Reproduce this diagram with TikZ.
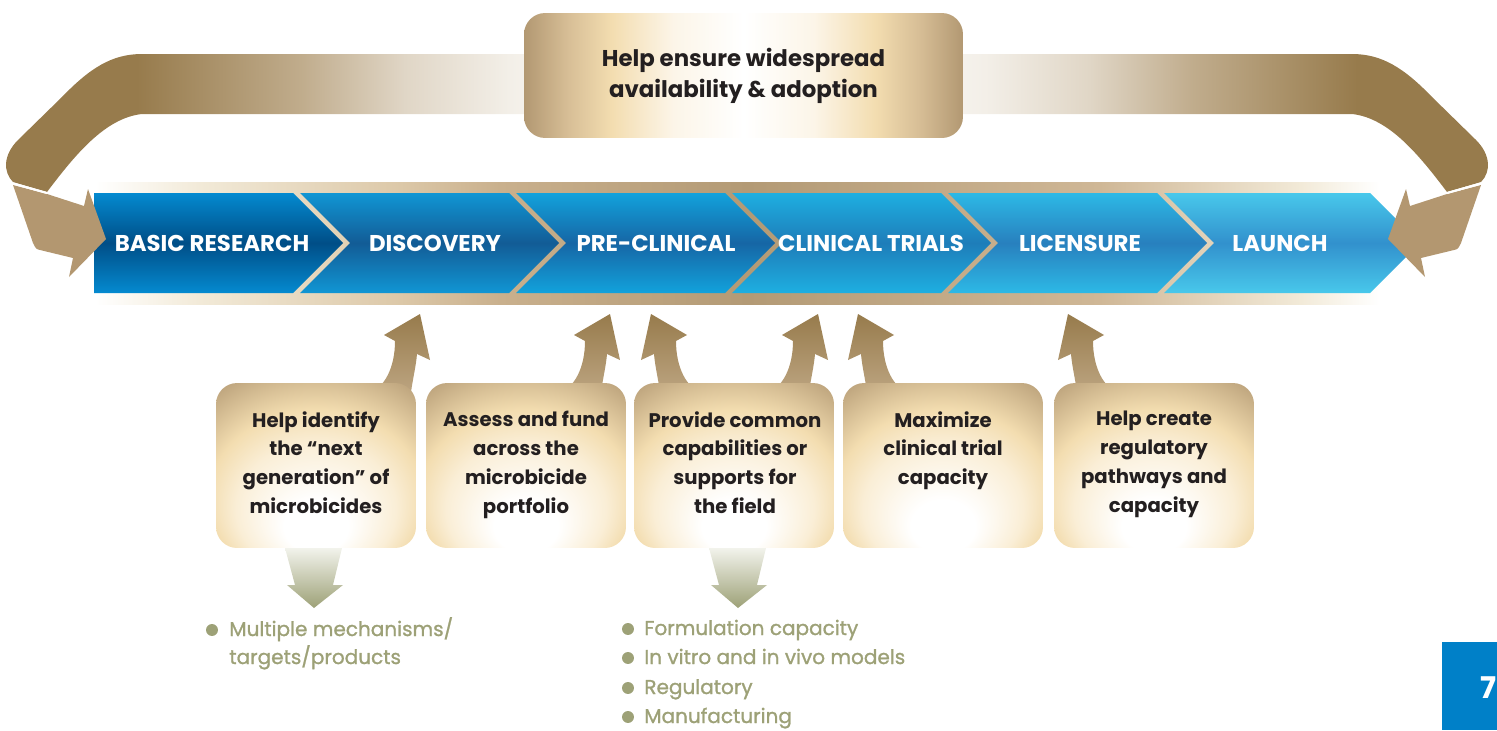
\documentclass[tikz,border=0pt]{standalone}
\usepackage{fontspec}
\setmainfont{Poppins}
\newfontfamily\pointfont{Poppins}[FakeBold=1.2]
\usetikzlibrary{calc}
\definecolor{gold}{RGB}{151,123,76}
\definecolor{goldmid}{RGB}{192,172,140}
\definecolor{goldlight}{RGB}{224,214,198}
\definecolor{goldpale}{RGB}{243,239,232}
\definecolor{twist}{RGB}{179,151,112}
\definecolor{sand}{RGB}{243,221,176}
\definecolor{cream}{RGB}{250,238,214}
\definecolor{ivory}{RGB}{252,245,232}
\definecolor{tanlight}{RGB}{215,190,150}
\definecolor{boxtan}{RGB}{178,152,114}
\definecolor{arrowfoot}{RGB}{188,164,128}
\definecolor{stripA}{RGB}{242,234,216}
\definecolor{stripB}{RGB}{220,200,168}
\definecolor{stripC}{RGB}{201,176,141}
\definecolor{stripD}{RGB}{179,154,117}
\definecolor{stripE}{RGB}{207,183,150}
\definecolor{olive}{RGB}{157,161,119}
\definecolor{olivepale}{RGB}{242,243,236}
\definecolor{ink}{RGB}{35,31,32}
\definecolor{pageblue}{RGB}{0,128,200}
\definecolor{segAe}{RGB}{4,138,208}   \definecolor{segAm}{RGB}{0,78,135}
\definecolor{segBe}{RGB}{17,150,212}  \definecolor{segBm}{RGB}{18,92,150}
\definecolor{segCe}{RGB}{18,162,220}  \definecolor{segCm}{RGB}{22,102,165}
\definecolor{segDe}{RGB}{30,175,225}  \definecolor{segDm}{RGB}{30,125,185}
\definecolor{segEe}{RGB}{45,185,230}  \definecolor{segEm}{RGB}{40,128,190}
\definecolor{segFe}{RGB}{72,200,235}  \definecolor{segFm}{RGB}{50,145,205}
\pgfdeclarehorizontalshading{loopband}{100bp}{color(0bp)=(gold); color(29.5bp)=(gold);
  color(35bp)=(goldmid); color(38.5bp)=(goldlight); color(42bp)=(goldpale); color(47bp)=(white);
  color(53bp)=(white); color(58bp)=(goldpale); color(61.5bp)=(goldlight); color(65bp)=(goldmid);
  color(70.5bp)=(gold); color(100bp)=(gold)}
\pgfdeclarehorizontalshading{stripband}{100bp}{color(0bp)=(white); color(25bp)=(white);
  color(29bp)=(stripA); color(36.7bp)=(stripB); color(40.5bp)=(stripC);
  color(50bp)=(stripD); color(63.5bp)=(stripE); color(71.2bp)=(stripA);
  color(74.2bp)=(white); color(100bp)=(white)}
\pgfdeclarehorizontalshading{goalglow}{100bp}{color(0bp)=(boxtan); color(25bp)=(boxtan);
  color(30bp)=(tanlight); color(35bp)=(sand); color(42bp)=(ivory); color(50bp)=(white);
  color(58bp)=(ivory); color(65bp)=(sand); color(70bp)=(tanlight);
  color(75bp)=(boxtan); color(100bp)=(boxtan)}
\pgfdeclareradialshading{boxglow}{\pgfpoint{0bp}{-22bp}}{color(0bp)=(white); color(8bp)=(white);
  color(20bp)=(cream); color(27bp)=(sand); color(40bp)=(boxtan); color(50bp)=(boxtan)}

\begin{document}
\begin{tikzpicture}[x=0.02cm, y=-0.02cm,
  stage/.style={font=\bfseries\fontsize{13}{15}\selectfont, text=white, inner sep=0pt},
  actbox/.style={rounded corners=12pt, minimum width=4cm, minimum height=3.3cm,
    shade, shading=boxglow, inner sep=0pt},
  boxtext/.style={font=\bfseries\fontsize{11.2}{16.4}\selectfont, text=ink, align=center,
    anchor=north, inner sep=0pt},
  goalbox/.style={rounded corners=12pt, minimum width=8.78cm, minimum height=2.5cm,
    shade, shading=goalglow, font=\bfseries\fontsize{13}{17.6}\selectfont, text=ink,
    align=center},
  pointtext/.style={font=\pointfont\fontsize{11.4}{16}\selectfont, text=olive,
    anchor=base west, inner sep=0pt}]
  \useasboundingbox (0,0) rectangle (1497,730);

  % band behind the stages
  \shade[shading=stripband] (95,182) rectangle (1400,304);

  % loop from launch back to basic research
  \shade[shading=loopband] (142,54) -- (1352,54)
    .. controls (1382,54) and (1404,68) .. (1432,97) -- (1476,140)
    .. controls (1491,155) and (1491,172) .. (1481,182) -- (1447,192)
    .. controls (1419,155) and (1389,118) .. (1352,114) -- (142,114)
    .. controls (105,118) and (75,155) .. (47,192) -- (13,182)
    .. controls (3,172) and (3,155) .. (18,140) -- (62,97)
    .. controls (90,68) and (112,54) .. (142,54) -- cycle;

  % stages
  \foreach \l/\r/\k/\c/\tx/\lab [count=\i] in {
      94/293/0/segA/212/BASIC RESEARCH, 300/509/50/segB/435/DISCOVERY,
      516/725/50/segC/656/PRE-CLINICAL, 732/941/50/segD/871/CLINICAL TRIALS,
      948/1157/50/segE/1080/LICENSURE, 1164/1370/50/segF/1280/LAUNCH} {
    \shade[top color=\c e, bottom color=\c e, middle color=\c m]
      (\l,193) -- (\r,193) -- ({\r+50},243) -- (\r,293) -- (\l,293) -- ({\l+\k},243) -- cycle;
    \node[stage] (s\i) at (\tx,243) {\lab};
  }

  % arrow heads of the loop
  \fill[twist] (13,185) -- (47,194) -- (84,206) -- (88,189) -- (106,239) -- (69,277)
    -- (73,258) -- (40,250) .. controls (36,249) .. (33,243) -- cycle;
  \fill[twist] (1481,185) -- (1447,194) -- (1410,206) -- (1406,189) -- (1388,239)
    -- (1425,277) -- (1421,258) -- (1454,250) .. controls (1458,249) .. (1461,243) -- cycle;
  \draw[white, line width=1.2pt] (13,183.5) -- (47,193);
  \draw[white, line width=1.2pt] (1481,183.5) -- (1447,193);

  \node[goalbox] (goal) at (743.5,75.5) {Help ensure widespread\\availability \& adoption};

  % arrows up into the stages
  \foreach \tx/\d in {420/1, 610/1, 651/-1, 818/1, 858/-1, 1068/-1} {
    \shade[top color=gold, bottom color=arrowfoot]
      ({\tx-50*\d},392) .. controls ({\tx-36*\d},388) and ({\tx-25*\d},368) .. ({\tx-25*\d},341)
      -- ({\tx-36*\d},335) -- (\tx,314) -- ({\tx+10*\d},360) -- ({\tx-3*\d},354)
      .. controls ({\tx-4*\d},366) and ({\tx-7*\d},378) .. ({\tx-9*\d},392) -- cycle;
  }

  % actions
  \node[actbox] (b1) at (316,465.5) {};
  \node[actbox] (b2) at (526,465.5) {};
  \node[actbox] (b3) at (734,465.5) {};
  \node[actbox] (b4) at (943,465.5) {};
  \node[actbox] (b5) at (1154,465.5) {};
  \node[boxtext] (t1) at (316,411) {Help identify\\the “next\\generation” of\\microbicides};
  \node[boxtext] (t2) at (526,411) {Assess and fund\\across the\\microbicide\\portfolio};
  \node[boxtext] (t3) at (735,411) {Provide common\\capabilities or\\supports for\\the field};
  \node[boxtext] (t4) at (943,411) {Maximize\\clinical trial\\capacity};
  \node[boxtext] (t5) at (1154,411) {Help create\\regulatory\\pathways and\\capacity};

  % arrows down to the details
  \foreach \ax in {314, 738} {
    \shade[top color=olivepale, bottom color=olive]
      ({\ax-29},548) -- ({\ax+28},548) -- ({\ax+19},585) -- ({\ax+29},585) -- (\ax,608)
      -- ({\ax-27},585) -- ({\ax-19},585) -- cycle;
  }

  \fill[olive] (212,630) circle (3.4pt);
  \node[pointtext] (p1) at (229,636) {Multiple mechanisms/};
  \node[pointtext] (p2) at (229,664) {targets/products};
  \foreach \y/\txt [count=\i] in {629/Formulation capacity, 658/In vitro and in vivo models,
      688/Regulatory, 717/Manufacturing} {
    \fill[olive] (628,\y) circle (3.4pt);
    \node[pointtext] (q\i) at (644,{\y+6}) {\txt};
  }

  % page number
  \fill[pageblue] (1442,642) rectangle (1497,730);
  \node[text=white, font=\bfseries\fontsize{17}{20}\selectfont] (page) at (1488,688) {7};
\end{tikzpicture}
\end{document}
